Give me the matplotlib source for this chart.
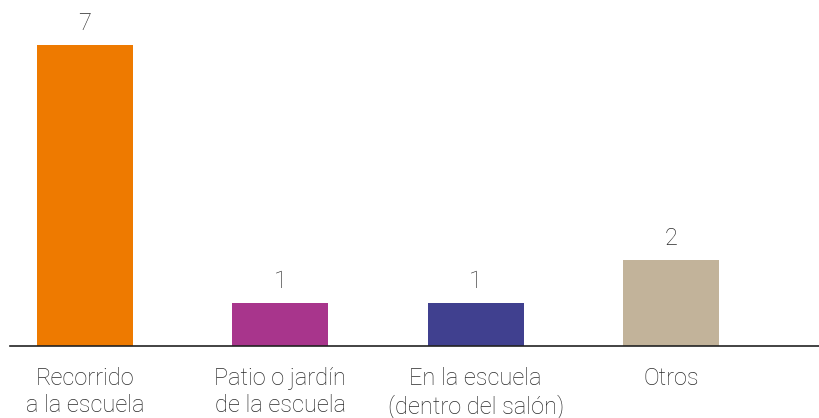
import matplotlib
matplotlib.use("Agg")
import matplotlib.pyplot as plt

categories = ["Recorrido\na la escuela", "Patio o jardín\nde la escuela", "En la escuela\n(dentro del salón)", "Otros"]
values = [7, 1, 1, 2]
colors = ["#EE7A00", "#A8358C", "#40408F", "#C2B39A"]

plt.rcParams['font.family'] = ['Roboto', 'DejaVu Sans']

fig = plt.figure(figsize=(8.2, 4.18), dpi=100)
ax = fig.add_axes([10/820, 72/418, 810/820, (346-2)/418])

x = list(range(len(categories)))
ax.bar(x, values, width=0.49, color=colors)
for xi, v in zip(x, values):
    ax.annotate(str(v), (xi, v), xytext=(0, 7), textcoords='offset points',
                ha='center', va='bottom', fontsize=17, color='#2b2b2b', fontweight='light')

ax.set_xlim(-0.384, 3.763)
ax.set_ylim(0, 8)
ax.set_xticks(x)
ax.set_xticklabels(categories, fontsize=17, color='#2b2b2b', fontweight='light', linespacing=1.22)
ax.tick_params(axis='x', length=0, pad=15)
ax.set_yticks([])
for s in ['top', 'right', 'left']:
    ax.spines[s].set_visible(False)
ax.spines['bottom'].set_color('#222222')
ax.spines['bottom'].set_linewidth(1.2)

fig.savefig("out.png", dpi=100)
